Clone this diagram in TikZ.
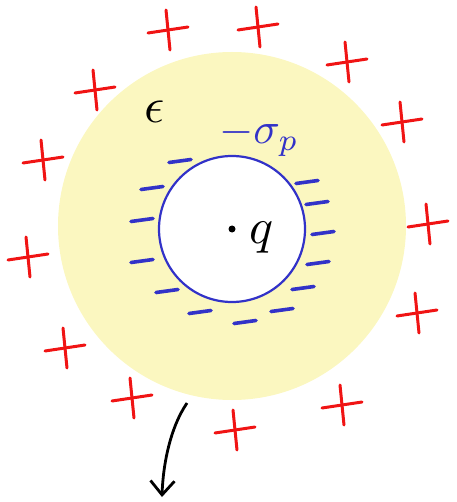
\documentclass[tikz,border=0pt]{standalone}
\usepackage{amsmath, amssymb}
\usetikzlibrary{arrows.meta}
\definecolor{padyellow}{RGB}{251,247,192}
\definecolor{chargeblue}{RGB}{50,50,200}
\definecolor{chargered}{RGB}{240,20,20}

\tikzset{
    plussign/.style={draw=chargered, line width=3pt, line cap=round},
    minussign/.style={draw=chargeblue, line width=3.6pt, line cap=round},
    biglabel/.style={inner sep=0pt, scale=5}
}

\begin{document}
\begin{tikzpicture}[x=1pt, y=-1pt, >=Stealth]
    \useasboundingbox (0,0) rectangle (456,502);
    \coordinate (C) at (232,226);
    \coordinate (Q) at (232,229);

    % dielectric shell with cavity
    \fill[padyellow] (C) circle[radius=174];
    \fill[white] (Q) circle[radius=73];
    \draw[chargeblue, line width=2.2pt] (Q) circle[radius=73];

    % bound charge on the cavity wall
    \foreach \x/\y in {180/161, 152/188, 142/220, 142/261, 167/291, 200/312, 245/322,
                       282/310, 303/288, 318/263, 323/233, 317/203, 307/182}
        \draw[minussign] (\x-11,\y+1.5) -- (\x+11,\y-1.5);

    % charge outside
    \foreach \x/\y in {168/30, 258/27, 347/62, 402/122, 428/224, 417/313, 342/405,
                       235/430, 132/398, 65/348, 28/257, 43/160, 95/90}
    {
        \draw[plussign] (\x-20,\y+3) -- (\x+20,\y-3);
        \draw[plussign] (\x-2,\y-20) -- (\x+2,\y+20);
    }

    \fill (Q) circle[radius=3.5];
    \node[biglabel] (q) at (262,238) {$q$};
    \node[biglabel] (eps) at (155,112) {$\epsilon$};
    \node[biglabel, text=chargeblue, scale=0.88] (sig) at (259,137) {$-\sigma_p$};

    \coordinate (A) at (187,403);
    \coordinate (B) at (162,497);
    \draw[line width=2.8pt, -{Straight Barb[length=14pt, width=24pt]}]
        (A) .. controls (170,428) and (163,465) .. (B);
\end{tikzpicture}
\end{document}
